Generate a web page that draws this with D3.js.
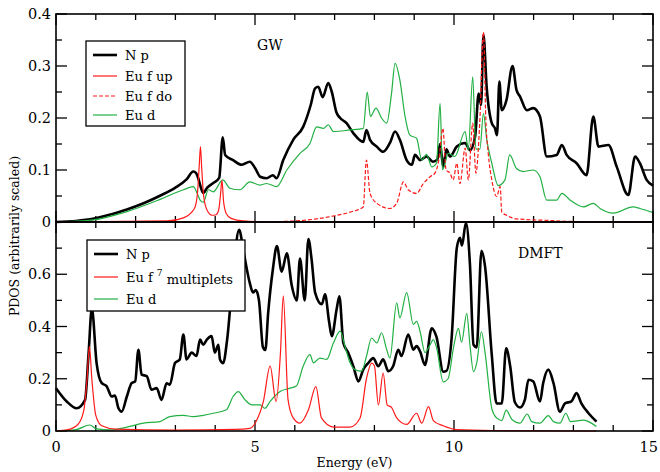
<!DOCTYPE html>
<html><head><meta charset="utf-8">
<script src="https://cdn.jsdelivr.net/npm/d3@7"></script>
<style>body{margin:0;background:#fff}svg{display:block}</style>
</head><body><svg id="c" width="660" height="472"></svg>
<script>
// ---- data (energy eV, PDOS) ----
const xTicks = [0,5,10,15];
const topYTicks = [0,0.1,0.2,0.3,0.4];
const botYTicks = [0,0.2,0.4,0.6];
const topLegend = ["N p","Eu f up","Eu f do","Eu d"];
const botLegend = ["N p","Eu f","Eu d"];

const gwNp = [[0,0],[0.5,0.002],[0.93,0.006],[1.4,0.015],[1.78,0.024],[2.2,0.036],[2.6,0.05],[3.0,0.066],[3.28,0.082],[3.45,0.097],[3.52,0.094],[3.57,0.085],[3.65,0.064],[3.7,0.056],[3.8,0.066],[3.95,0.075],[4.1,0.085],[4.19,0.163],[4.25,0.129],[4.45,0.119],[4.67,0.11],[4.87,0.116],[5.0,0.104],[5.13,0.087],[5.29,0.084],[5.45,0.09],[5.54,0.084],[5.71,0.119],[5.96,0.158],[6.21,0.183],[6.4,0.225],[6.51,0.257],[6.59,0.26],[6.7,0.24],[6.84,0.267],[6.93,0.25],[7.05,0.21],[7.14,0.2],[7.3,0.19],[7.47,0.171],[7.72,0.154],[7.8,0.177],[7.89,0.158],[8.06,0.145],[8.22,0.135],[8.39,0.152],[8.52,0.174],[8.64,0.158],[8.81,0.119],[8.94,0.11],[9.02,0.129],[9.15,0.119],[9.31,0.126],[9.47,0.116],[9.58,0.12],[9.65,0.15],[9.73,0.106],[9.81,0.14],[9.9,0.126],[10.07,0.145],[10.28,0.152],[10.4,0.138],[10.53,0.164],[10.62,0.247],[10.68,0.225],[10.74,0.36],[10.82,0.26],[10.95,0.19],[11.03,0.18],[11.08,0.167],[11.14,0.27],[11.2,0.215],[11.32,0.235],[11.47,0.3],[11.57,0.254],[11.66,0.241],[11.83,0.215],[11.99,0.219],[12.16,0.203],[12.33,0.126],[12.58,0.129],[12.71,0.148],[12.83,0.129],[13.08,0.113],[13.33,0.09],[13.5,0.203],[13.63,0.145],[13.88,0.148],[14.09,0.106],[14.38,0.052],[14.55,0.126],[14.67,0.113],[14.84,0.081],[15,0.07]];
const gwEuFup = [[0,0],[2.8,0.002],[3.2,0.008],[3.4,0.018],[3.5,0.03],[3.56,0.06],[3.6,0.11],[3.63,0.145],[3.66,0.105],[3.71,0.05],[3.8,0.022],[3.92,0.013],[4.02,0.014],[4.09,0.024],[4.13,0.05],[4.17,0.08],[4.21,0.04],[4.28,0.016],[4.4,0.007],[4.7,0.002],[5.5,0],[15,0]];
const gwEuFdo = [[0,0],[5,0],[6,0.002],[6.55,0.006],[7.0,0.012],[7.39,0.019],[7.72,0.029],[7.8,0.119],[7.89,0.055],[8.06,0.036],[8.39,0.026],[8.56,0.036],[8.73,0.077],[8.85,0.062],[9.06,0.055],[9.23,0.074],[9.4,0.087],[9.52,0.094],[9.62,0.12],[9.72,0.18],[9.8,0.1],[9.9,0.094],[9.98,0.081],[10.07,0.113],[10.15,0.074],[10.28,0.142],[10.36,0.081],[10.47,0.19],[10.55,0.094],[10.65,0.196],[10.74,0.365],[10.8,0.196],[10.86,0.132],[10.95,0.081],[11.07,0.049],[11.16,0.068],[11.2,0.019],[11.32,0.013],[11.57,0.006],[12.4,0.003],[13,0.001],[15,0]];
const gwEuD = [[0,0],[0.93,0.004],[1.78,0.02],[2.6,0.043],[3.2,0.062],[3.45,0.068],[3.55,0.055],[3.62,0.042],[3.7,0.038],[3.83,0.062],[3.95,0.058],[4.19,0.081],[4.37,0.065],[4.62,0.062],[4.87,0.077],[5.13,0.071],[5.29,0.074],[5.54,0.068],[5.8,0.1],[6.13,0.132],[6.38,0.151],[6.55,0.183],[6.72,0.18],[6.84,0.187],[6.97,0.174],[7.39,0.177],[7.72,0.18],[7.82,0.25],[7.9,0.203],[8.04,0.219],[8.18,0.2],[8.31,0.19],[8.43,0.247],[8.52,0.305],[8.64,0.273],[8.77,0.203],[8.89,0.167],[9.06,0.161],[9.19,0.119],[9.31,0.13],[9.44,0.106],[9.56,0.113],[9.65,0.228],[9.71,0.1],[9.86,0.132],[10.02,0.126],[10.28,0.174],[10.36,0.139],[10.47,0.279],[10.55,0.14],[10.65,0.14],[10.74,0.209],[10.82,0.16],[10.95,0.113],[11.11,0.07],[11.28,0.081],[11.4,0.129],[11.57,0.103],[11.74,0.097],[11.99,0.1],[12.16,0.087],[12.33,0.042],[12.58,0.042],[12.71,0.055],[12.92,0.042],[13.25,0.029],[13.5,0.036],[13.67,0.026],[14.0,0.017],[14.5,0.029],[14.67,0.026],[15,0.018]];

const dmNp = [[0,0.164],[0.27,0.113],[0.52,0.087],[0.73,0.119],[0.82,0.3],[0.9,0.47],[1.02,0.26],[1.15,0.183],[1.27,0.172],[1.4,0.132],[1.48,0.136],[1.57,0.087],[1.65,0.074],[1.78,0.132],[1.9,0.183],[1.99,0.19],[2.07,0.311],[2.15,0.216],[2.28,0.21],[2.4,0.158],[2.53,0.164],[2.65,0.119],[2.78,0.183],[2.86,0.177],[2.99,0.26],[3.11,0.274],[3.2,0.369],[3.28,0.274],[3.41,0.3],[3.53,0.287],[3.62,0.35],[3.7,0.33],[3.79,0.35],[3.91,0.363],[3.99,0.3],[4.08,0.33],[4.12,0.274],[4.2,0.26],[4.3,0.35],[4.45,0.6],[4.6,0.77],[4.72,0.68],[4.87,0.566],[4.95,0.53],[5.02,0.54],[5.1,0.5],[5.2,0.32],[5.26,0.31],[5.33,0.45],[5.45,0.62],[5.55,0.708],[5.67,0.61],[5.8,0.68],[5.92,0.56],[6.05,0.5],[6.13,0.66],[6.25,0.5],[6.34,0.735],[6.42,0.66],[6.51,0.53],[6.68,0.485],[6.76,0.523],[6.86,0.42],[6.93,0.363],[7.05,0.465],[7.12,0.516],[7.22,0.337],[7.34,0.3],[7.47,0.248],[7.6,0.19],[7.72,0.235],[7.85,0.261],[7.97,0.279],[8.1,0.248],[8.22,0.274],[8.35,0.229],[8.47,0.248],[8.6,0.311],[8.68,0.287],[8.85,0.369],[8.98,0.311],[9.06,0.325],[9.15,0.304],[9.27,0.253],[9.44,0.393],[9.56,0.36],[9.73,0.227],[9.81,0.23],[9.94,0.355],[10.07,0.7],[10.15,0.74],[10.2,0.71],[10.3,0.797],[10.4,0.64],[10.49,0.33],[10.57,0.32],[10.69,0.69],[10.78,0.63],[10.95,0.29],[11.07,0.105],[11.2,0.105],[11.31,0.317],[11.41,0.25],[11.53,0.11],[11.66,0.09],[11.78,0.119],[11.87,0.196],[11.99,0.19],[12.16,0.113],[12.24,0.183],[12.37,0.235],[12.5,0.183],[12.66,0.074],[12.79,0.106],[12.95,0.113],[13.08,0.145],[13.2,0.106],[13.38,0.068],[13.58,0.036]];
const dmEuF = [[0,0],[0.3,0.005],[0.55,0.025],[0.7,0.08],[0.78,0.2],[0.84,0.324],[0.9,0.2],[1.0,0.06],[1.15,0.02],[1.5,0.007],[3,0.003],[4.5,0.006],[4.87,0.01],[5.04,0.04],[5.21,0.113],[5.38,0.248],[5.53,0.113],[5.64,0.3],[5.71,0.517],[5.83,0.12],[5.96,0.05],[6.13,0.03],[6.34,0.08],[6.53,0.17],[6.67,0.05],[6.97,0.015],[7.39,0.015],[7.64,0.05],[7.8,0.2],[7.93,0.26],[8.0,0.25],[8.1,0.1],[8.22,0.222],[8.32,0.1],[8.43,0.09],[8.56,0.05],[8.81,0.025],[9.06,0.068],[9.19,0.03],[9.36,0.093],[9.48,0.04],[9.73,0.02],[10.07,0.005],[11,0.002],[13.58,0]];
const dmEuD = [[0,0],[0.5,0.005],[0.85,0.023],[1.02,0.008],[1.36,0.004],[1.78,0.015],[2.2,0.03],[2.61,0.036],[2.86,0.055],[3.2,0.06],[3.45,0.055],[3.7,0.06],[3.95,0.068],[4.28,0.081],[4.45,0.132],[4.58,0.151],[4.75,0.119],[4.92,0.1],[5.13,0.1],[5.25,0.087],[5.38,0.113],[5.63,0.151],[5.88,0.164],[6.04,0.172],[6.21,0.248],[6.38,0.292],[6.47,0.261],[6.63,0.279],[6.8,0.274],[6.97,0.337],[7.14,0.382],[7.26,0.324],[7.39,0.261],[7.51,0.235],[7.68,0.229],[7.8,0.286],[7.93,0.356],[8.06,0.337],[8.18,0.376],[8.31,0.311],[8.39,0.279],[8.56,0.491],[8.64,0.433],[8.81,0.53],[8.98,0.408],[9.06,0.42],[9.15,0.38],[9.27,0.3],[9.4,0.33],[9.48,0.35],[9.56,0.32],[9.73,0.188],[9.85,0.2],[10.0,0.33],[10.11,0.393],[10.19,0.34],[10.32,0.45],[10.4,0.33],[10.49,0.227],[10.57,0.26],[10.69,0.38],[10.78,0.3],[10.95,0.086],[11.07,0.05],[11.2,0.04],[11.31,0.08],[11.45,0.045],[11.66,0.03],[11.84,0.065],[11.95,0.036],[12.16,0.03],[12.37,0.059],[12.5,0.036],[12.66,0.03],[12.81,0.068],[12.93,0.036],[13.25,0.042],[13.38,0.036],[13.58,0.017]];

// ---- layout ----
const L=56, R=653, T1=14, B1=222, T2=222, B2=431;
const svg=d3.select("#c");
const x=d3.scaleLinear().domain([0,15]).range([L,R]);
const yTop=d3.scaleLinear().domain([0,0.4]).range([B1,T1]);
const yBot=d3.scaleLinear().domain([0,0.8]).range([B2,T2]);
const RED="#ff1a1a", GREEN="#22b043";
const FONT="'DejaVu Serif', 'Liberation Serif', serif";

function panel(y, yMajor, yMinorStep, yMax, labels){
  const g=svg.append("g");
  const minorX=d3.range(0,15.001,1);
  const minorY=d3.range(0,yMax+1e-9,yMinorStep);
  const top=y.range()[1], bot=y.range()[0];
  minorX.forEach(v=>{
    const major = v%5===0; const len = major?11:6;
    g.append("line").attr("x1",x(v)).attr("x2",x(v)).attr("y1",bot).attr("y2",bot-len).attr("stroke","#000").attr("stroke-width",1.3);
    g.append("line").attr("x1",x(v)).attr("x2",x(v)).attr("y1",top).attr("y2",top+len).attr("stroke","#000").attr("stroke-width",1.3);
  });
  minorY.forEach(v=>{
    const major = yMajor.some(m=>Math.abs(m-v)<1e-9);
    const len = major?11:6;
    g.append("line").attr("x1",L).attr("x2",L+len).attr("y1",y(v)).attr("y2",y(v)).attr("stroke","#000").attr("stroke-width",1.3);
    g.append("line").attr("x1",R).attr("x2",R-len).attr("y1",y(v)).attr("y2",y(v)).attr("stroke","#000").attr("stroke-width",1.3);
  });
  labels.forEach(v=>{
    g.append("text").attr("x",L-5).attr("y",y(v)).attr("dy","0.35em").attr("text-anchor","end").style("font-size","14.5px").style("font-family",FONT).text(v);
  });
}
panel(yTop, topYTicks, 0.05, 0.4, topYTicks);
panel(yBot, botYTicks.concat([0.8]), 0.1, 0.8, botYTicks);
xTicks.forEach(v=>{
  const t=svg.append("text").attr("x",x(v)).attr("y",B2+16).attr("dy","0.35em").attr("text-anchor","middle").style("font-size","14.5px").style("font-family",FONT).text(v);
  const w=t.node().getComputedTextLength();
  if(x(v)+w/2>658) t.attr("x",658-w/2);
});

function draw(data, y, color, width, dash){
  const line=d3.line().x(d=>x(d[0])).y(d=>y(d[1])).curve(d3.curveMonotoneX);
  svg.append("path").datum(data).attr("d",line).attr("fill","none").attr("stroke",color).attr("stroke-width",width).attr("stroke-dasharray",dash||null).attr("stroke-linejoin","round");
}
draw(gwNp,yTop,"#000",2.6);
draw(gwEuD,yTop,GREEN,1.2);
draw(gwEuFup,yTop,RED,1.2);
draw(gwEuFdo,yTop,RED,1.2,"4,2");
draw(dmNp,yBot,"#000",2.6);
draw(dmEuD,yBot,GREEN,1.2);
draw(dmEuF,yBot,RED,1.2);

svg.append("rect").attr("x",L).attr("y",T1).attr("width",R-L).attr("height",B1-T1).attr("fill","none").attr("stroke","#000").attr("stroke-width",1.6);
svg.append("rect").attr("x",L).attr("y",T2).attr("width",R-L).attr("height",B2-T2).attr("fill","none").attr("stroke","#000").attr("stroke-width",1.6);

function legend(x0,y0,w,h,rows){
  svg.append("rect").attr("x",x0).attr("y",y0).attr("width",w).attr("height",h).attr("fill","#fff").attr("stroke","#000").attr("stroke-width",1.3);
  rows.forEach(r=>{
    svg.append("line").attr("x1",x0+7).attr("x2",x0+31).attr("y1",r.y).attr("y2",r.y).attr("stroke",r.c).attr("stroke-width",r.w).attr("stroke-dasharray",r.d||null);
    const t=svg.append("text").attr("x",x0+39).attr("y",r.y).attr("dy","0.35em").style("font-size","13px").style("font-family",FONT).text(r.t);
    if(r.sup){ t.append("tspan").attr("dy","-0.6em").attr("dx","4").style("font-size","9px").text(r.sup);
      t.append("tspan").attr("dy","0.6em").style("font-size","13px").text(" multiplets"); }
  });
}
legend(86,41,99,85,[{y:55,c:"#000",w:2.6,t:topLegend[0]},{y:76,c:RED,w:1.2,t:topLegend[1]},{y:96,c:RED,w:1.2,d:"4,2",t:topLegend[2]},{y:115,c:GREEN,w:1.2,t:topLegend[3]}]);
legend(87,240,158,71,[{y:254,c:"#000",w:2.6,t:botLegend[0]},{y:277,c:RED,w:1.2,t:botLegend[1],sup:"7"},{y:299,c:GREEN,w:1.2,t:botLegend[2]}]);

svg.append("text").attr("x",257).attr("y",50).style("font-size","14px").style("font-family",FONT).text("GW");
svg.append("text").attr("x",518).attr("y",258).style("font-size","14px").style("font-family",FONT).text("DMFT");
svg.append("text").attr("x",(L+R)/2).attr("y",467).attr("text-anchor","middle").style("font-size","12.5px").style("font-family",FONT).text("Energy (eV)");
svg.append("text").attr("transform","translate(19,236) rotate(-90)").attr("text-anchor","middle").style("font-size","12.5px").style("font-family",FONT).text("PDOS (arbitrarily scaled)");
</script></body></html>
